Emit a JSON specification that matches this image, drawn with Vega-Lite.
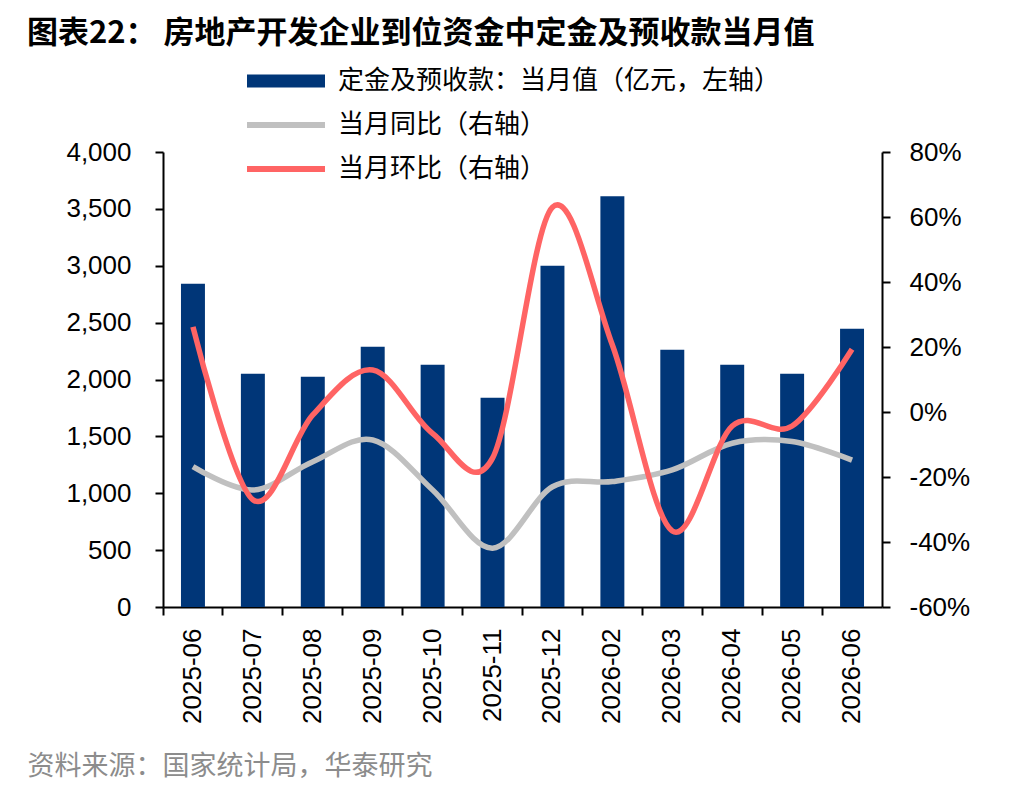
{
  "$schema": "https://vega.github.io/schema/vega-lite/v6.json",
  "width": 719,
  "height": 455,
  "autosize": {"type": "none"},
  "padding": {"left": 163, "top": 152, "right": 154, "bottom": 185},
  "background": "white",
  "title": {
    "text": "图表22： 房地产开发企业到位资金中定金及预收款当月值",
    "anchor": "start",
    "frame": "group",
    "dx": -136,
    "dy": -14,
    "font": "Noto Sans CJK SC",
    "fontSize": 31,
    "fontWeight": "bold",
    "color": "#000000"
  },
  "data": {
    "values": [
      {"month": "2025-06", "value": 2842, "yoy": -16.8, "mom": 26.2},
      {"month": "2025-07", "value": 2050, "yoy": -24.0, "mom": -27.0},
      {"month": "2025-08", "value": 2024, "yoy": -15.3, "mom": -0.9},
      {"month": "2025-09", "value": 2288, "yoy": -8.6, "mom": 12.9},
      {"month": "2025-10", "value": 2130, "yoy": -24.0, "mom": -6.6},
      {"month": "2025-11", "value": 1839, "yoy": -41.9, "mom": -14.2},
      {"month": "2025-12", "value": 3000, "yoy": -23.0, "mom": 63.0},
      {"month": "2026-02", "value": 3611, "yoy": -21.4, "mom": 20.6},
      {"month": "2026-03", "value": 2261, "yoy": -17.8, "mom": -36.6},
      {"month": "2026-04", "value": 2130, "yoy": -9.6, "mom": -4.3},
      {"month": "2026-05", "value": 2050, "yoy": -9.1, "mom": -4.3},
      {"month": "2026-06", "value": 2446, "yoy": -14.8, "mom": 19.3}
    ]
  },
  "config": {
    "view": {"stroke": null},
    "axis": {
      "domainColor": "#000000",
      "tickColor": "#000000",
      "domainWidth": 2,
      "tickWidth": 2,
      "tickSize": 8,
      "labelFont": "Liberation Sans",
      "labelFontSize": 26,
      "labelColor": "#000000",
      "grid": false
    }
  },
  "layer": [
    {
      "mark": {"type": "bar", "width": {"band": 0.4}},
      "encoding": {
        "x": {
          "field": "month",
          "type": "ordinal",
          "sort": null,
          "scale": {"paddingInner": 0, "paddingOuter": 0},
          "axis": {
            "labelAngle": -90,
            "labelPadding": 13,
            "bandPosition": 0,
            "title": "资料来源：国家统计局，华泰研究",
            "titleFont": "Noto Sans CJK SC",
            "titleFontSize": 27,
            "titleFontWeight": "normal",
            "titleColor": "#8c8c8c",
            "titleX": -136,
            "titleY": 159,
            "titleAlign": "left",
            "titleBaseline": "middle",
            "titleAngle": 0
          }
        },
        "y": {
          "field": "value",
          "type": "quantitative",
          "scale": {"domain": [0, 4000], "nice": false},
          "axis": {
            "values": [0, 500, 1000, 1500, 2000, 2500, 3000, 3500, 4000],
            "format": ",.0f",
            "labelPadding": 24,
            "title": null
          }
        },
        "fill": {
          "datum": "定金及预收款：当月值（亿元，左轴）",
          "scale": {"range": ["#003678"]},
          "legend": {
            "orient": "none",
            "legendX": 110,
            "legendY": -84,
            "title": null,
            "padding": 0,
            "symbolType": "M-7.8,-1.3H7.8V1.3H-7.8Z",
            "symbolSize": 100,
            "symbolStrokeWidth": 0,
            "labelFont": "Noto Sans CJK SC",
            "labelFontSize": 26,
            "labelColor": "#000000",
            "labelOffset": 39,
            "labelLimit": 700
          }
        }
      }
    },
    {
      "layer": [
        {
          "mark": {"type": "line", "interpolate": "cardinal", "strokeWidth": 5.5},
          "encoding": {
            "x": {"field": "month", "type": "ordinal", "sort": null},
            "y": {"field": "yoy", "type": "quantitative"},
            "stroke": {"datum": "当月同比（右轴）"}
          }
        },
        {
          "mark": {"type": "line", "interpolate": "cardinal", "strokeWidth": 5.5},
          "encoding": {
            "x": {"field": "month", "type": "ordinal", "sort": null},
            "y": {
              "field": "mom",
              "type": "quantitative",
              "scale": {"domain": [-60, 80], "nice": false},
              "axis": {
                "orient": "right",
                "values": [-60, -40, -20, 0, 20, 40, 60, 80],
                "labelExpr": "datum.value + '%'",
                "labelPadding": 19,
                "title": null
              }
            },
            "stroke": {
              "datum": "当月环比（右轴）",
              "scale": {
                "domain": ["当月同比（右轴）", "当月环比（右轴）"],
                "range": ["#c0c0c0", "#ff6464"]
              },
              "legend": {
                "orient": "none",
                "legendX": 110,
                "legendY": -40,
                "title": null,
                "padding": 0,
                "symbolType": "M-7.8,0H7.8",
                "symbolSize": 100,
                "symbolStrokeWidth": 6,
                "rowPadding": 18,
                "labelFont": "Noto Sans CJK SC",
                "labelFontSize": 26,
                "labelColor": "#000000",
                "labelOffset": 39,
                "labelLimit": 700
              }
            }
          }
        }
      ]
    }
  ],
  "resolve": {"scale": {"y": "independent"}}
}
